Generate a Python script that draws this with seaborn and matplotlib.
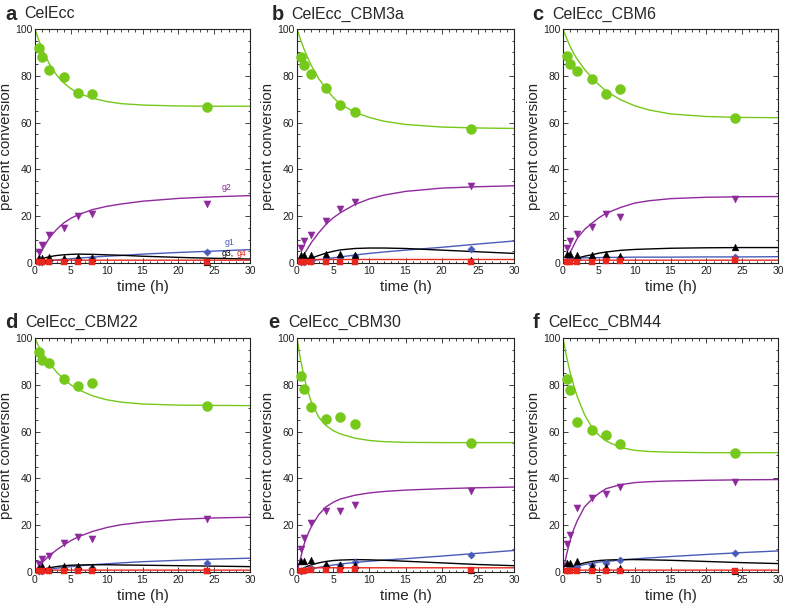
import numpy as np
import pandas as pd
import matplotlib
matplotlib.use("Agg")
import matplotlib.pyplot as plt
from matplotlib.ticker import MultipleLocator
import seaborn as sns

# ---------------- data ----------------
panel_letters = ["a", "b", "c", "d", "e", "f"]
panel_names = ["CelEcc", "CelEcc_CBM3a", "CelEcc_CBM6",
               "CelEcc_CBM22", "CelEcc_CBM30", "CelEcc_CBM44"]

t_obs = [0.5, 1, 2, 4, 6, 8, 24]
t_fit = [0, 0.5, 1, 1.5, 2, 3, 4, 5, 6, 8, 10, 12, 15, 20, 25, 30]

# observed points (one list per panel a..f)
green_obs = [
    [92.0, 87.9, 82.4, 79.5, 72.5, 72.4, 66.7],
    [87.9, 84.6, 80.8, 74.7, 67.6, 64.4, 57.2],
    [88.3, 85.0, 81.9, 78.7, 72.3, 74.2, 62.1],
    [94.0, 90.7, 89.5, 82.5, 79.3, 80.9, 71.1],
    [83.9, 78.3, 70.5, 65.5, 66.1, 63.2, 55.3],
    [82.6, 77.6, 64.1, 60.5, 58.7, 54.8, 51.0],
]
g2_obs = [
    [4.5, 7.8, 12.0, 14.8, 20.1, 20.9, 25.3],
    [6.4, 9.2, 12.1, 17.8, 23.2, 26.0, 32.7],
    [6.6, 9.5, 12.6, 15.4, 20.8, 19.5, 27.4],
    [3.5, 5.5, 7.0, 12.3, 15.0, 14.0, 22.5],
    [10.0, 14.7, 20.9, 25.9, 25.9, 28.6, 34.6],
    [11.8, 16.0, 27.4, 31.8, 33.2, 36.3, 38.3],
]
g3_obs = [
    [2.0, 2.0, 2.6, 2.3, 2.4, 2.0, 0.5],
    [3.3, 3.3, 3.6, 3.8, 3.8, 3.3, 1.1],
    [3.8, 3.8, 3.5, 3.5, 4.0, 3.2, 6.9],
    [1.5, 2.5, 1.5, 2.5, 2.5, 2.0, 1.0],
    [4.5, 4.5, 5.0, 3.6, 3.0, 3.1, 1.0],
    [4.0, 4.0, 4.5, 2.5, 2.3, 1.5, 0.5],
]
g1_obs = [
    [0.3, 0.5, 0.8, 1.2, 1.8, 2.3, 4.8],
    [0.4, 0.6, 0.9, 1.5, 2.4, 2.8, 6.1],
    [1.0, 1.5, 1.8, 2.0, 2.2, 2.2, 2.6],
    [0.4, 0.6, 0.9, 1.3, 1.6, 1.8, 4.0],
    [0.5, 0.9, 1.5, 2.4, 3.0, 4.2, 7.3],
    [0.8, 1.3, 2.2, 3.0, 4.0, 5.0, 8.2],
]
g4_obs = [
    [0.3, 0.3, 0.4, 0.4, 0.5, 0.5, 0.4],
    [0.3, 0.3, 0.4, 0.5, 0.5, 0.5, 0.5],
    [0.4, 0.4, 0.5, 0.6, 0.7, 0.7, 1.2],
    [0.3, 0.3, 0.3, 0.4, 0.4, 0.4, 0.4],
    [0.4, 0.5, 0.7, 0.9, 1.0, 1.1, 0.8],
    [0.3, 0.3, 0.4, 0.4, 0.5, 0.5, 0.5],
]

# fitted curves read at t_fit
green_fit = [
    [100, 95.4, 91.4, 88.2, 85.1, 80.4, 77.0, 74.5, 72.6, 70.5, 69.0, 68.1, 67.5, 67.1, 67.0, 67.0],
    [100, 95.3, 91.2, 87.6, 84.3, 78.8, 74.5, 70.8, 67.8, 64.4, 62.2, 60.6, 59.2, 58.1, 57.7, 57.5],
    [100, 96.0, 92.5, 89.5, 87.0, 82.8, 79.3, 76.2, 73.5, 69.8, 67.2, 65.4, 63.7, 62.6, 62.2, 62.1],
    [100, 96.5, 93.7, 91.3, 89.2, 85.5, 82.5, 80.0, 78.0, 75.3, 73.6, 72.6, 71.8, 71.3, 71.2, 71.1],
    [100, 90.5, 83.0, 77.2, 72.5, 66.2, 62.6, 60.4, 59.0, 57.2, 56.2, 55.7, 55.4, 55.3, 55.3, 55.3],
    [100, 92.0, 85.2, 79.6, 74.8, 67.3, 62.0, 58.5, 56.0, 53.2, 52.0, 51.5, 51.2, 51.0, 51.0, 51.0],
]
g2_fit = [
    [0, 2.5, 5.5, 8.2, 10.7, 14.3, 17.1, 19.1, 20.6, 22.8, 24.2, 25.2, 26.4, 27.6, 28.3, 28.8],
    [0, 1.5, 3.8, 6.3, 8.8, 12.9, 16.5, 19.3, 21.5, 25.0, 27.4, 29.0, 30.6, 32.0, 32.6, 33.0],
    [0, 2.0, 4.5, 7.6, 10.6, 14.3, 16.9, 19.3, 21.2, 23.7, 25.6, 26.6, 27.5, 28.1, 28.3, 28.4],
    [0, 2.5, 4.0, 5.5, 7.0, 9.4, 11.5, 13.4, 15.0, 17.3, 19.0, 20.2, 21.3, 22.5, 23.1, 23.4],
    [0, 6.0, 12.1, 16.2, 19.5, 24.5, 27.8, 29.8, 31.2, 32.8, 33.8, 34.4, 35.0, 35.6, 36.0, 36.3],
    [0, 7.5, 13.5, 18.3, 22.0, 27.8, 31.0, 33.6, 35.6, 37.3, 38.2, 38.6, 38.9, 39.2, 39.4, 39.5],
]
g3_fit = [
    [0, 1.0, 1.8, 2.3, 2.7, 3.2, 3.5, 3.7, 3.8, 3.7, 3.5, 3.3, 2.9, 2.4, 2.0, 1.7],
    [0, 0.6, 1.1, 1.6, 2.1, 3.2, 4.2, 5.0, 5.6, 6.2, 6.4, 6.4, 6.2, 5.5, 4.8, 4.1],
    [0, 0.6, 1.1, 1.6, 2.1, 2.9, 3.5, 4.2, 4.7, 5.4, 5.8, 6.0, 6.3, 6.5, 6.6, 6.6],
    [0, 0.5, 1.0, 1.4, 1.8, 2.3, 2.7, 2.9, 3.0, 3.1, 3.1, 3.0, 2.9, 2.7, 2.5, 2.3],
    [0, 1.0, 1.8, 2.5, 3.1, 3.9, 4.5, 4.9, 5.1, 5.3, 5.2, 5.0, 4.6, 3.9, 3.2, 2.7],
    [0, 1.0, 1.8, 2.5, 3.1, 3.9, 4.5, 4.9, 5.1, 5.3, 5.3, 5.2, 5.0, 4.5, 4.0, 3.6],
]
g1_fit = [
    [0, 0.4, 0.7, 0.9, 1.0, 1.3, 1.6, 1.8, 2.1, 2.5, 2.9, 3.2, 3.8, 4.5, 5.1, 5.7],
    [0, 0.3, 0.6, 0.8, 1.0, 1.4, 1.8, 2.2, 2.6, 3.4, 4.1, 4.7, 5.5, 6.7, 8.1, 9.4],
    [0, 0.8, 1.4, 1.8, 2.0, 2.2, 2.3, 2.3, 2.4, 2.4, 2.5, 2.5, 2.5, 2.6, 2.6, 2.7],
    [0, 0.4, 0.7, 1.0, 1.2, 1.6, 2.0, 2.3, 2.6, 3.1, 3.5, 3.9, 4.4, 5.0, 5.5, 5.9],
    [0, 0.4, 0.8, 1.1, 1.4, 2.0, 2.5, 3.0, 3.4, 4.1, 4.6, 5.1, 5.7, 6.8, 8.0, 9.2],
    [0, 0.8, 1.5, 2.0, 2.5, 3.2, 3.7, 4.2, 4.5, 5.1, 5.6, 6.0, 6.6, 7.5, 8.3, 9.0],
]
g4_fit = [
    [0, 0.5, 0.8, 1.0, 1.1, 1.2, 1.2, 1.2, 1.2, 1.2, 1.2, 1.2, 1.2, 1.2, 1.2, 1.2],
    [0, 0.7, 1.1, 1.3, 1.4, 1.5, 1.5, 1.5, 1.5, 1.5, 1.5, 1.5, 1.5, 1.5, 1.5, 1.5],
    [0, 0.5, 0.8, 1.0, 1.1, 1.2, 1.2, 1.2, 1.2, 1.2, 1.2, 1.2, 1.2, 1.2, 1.2, 1.2],
    [0, 0.4, 0.6, 0.7, 0.8, 0.8, 0.8, 0.8, 0.8, 0.8, 0.8, 0.8, 0.8, 0.8, 0.8, 0.8],
    [0, 0.8, 1.3, 1.6, 1.7, 1.8, 1.8, 1.8, 1.8, 1.8, 1.8, 1.8, 1.8, 1.8, 1.8, 1.8],
    [0, 0.4, 0.6, 0.7, 0.8, 0.8, 0.8, 0.8, 0.8, 0.8, 0.8, 0.8, 0.8, 0.8, 0.8, 0.8],
]

# ---------------- style ----------------
sns.set_style("ticks")
plt.rcParams["font.family"] = ["Liberation Sans", "DejaVu Sans"]

C_GREEN = "#76c81a"
C_PURPLE = "#8e2a9c"
C_BLUE = "#4a5cb8"
C_BLACK = "#000000"
C_RED = "#e8281e"

series = [
    # name, obs, fit, color, marker, size
    ("green", green_obs, green_fit, C_GREEN, "o", 52),
    ("g2", g2_obs, g2_fit, C_PURPLE, "v", 26),
    ("g1", g1_obs, g1_fit, C_BLUE, "D", 14),
    ("g3", g3_obs, g3_fit, C_BLACK, "^", 24),
    ("g4", g4_obs, g4_fit, C_RED, "s", 18),
]

fig = plt.figure(figsize=(7.85, 6.08), dpi=100)
W, H = 785.0, 608.0
lefts = [35, 297, 563]
widths = [215, 217, 215]
tops = [29, 338]
ax_h = 234
letter_x = [5, 272, 532, 5, 268, 533]
name_x = [24, 291, 552, 25, 288, 548]

for i in range(6):
    r, c = divmod(i, 3)
    l = lefts[c]
    top = tops[r]
    ax = fig.add_axes([l / W, 1 - (top + ax_h) / H, widths[c] / W, ax_h / H])

    for name, obs, fit, col, mk, sz in series:
        df_fit = pd.DataFrame({"t": t_fit, "y": fit[i]})
        sns.lineplot(data=df_fit, x="t", y="y", ax=ax, color=col, lw=1.0,
                     estimator=None, sort=False, zorder=2)
        df_obs = pd.DataFrame({"t": t_obs, "y": obs[i]})
        sns.scatterplot(data=df_obs, x="t", y="y", ax=ax, color=col, marker=mk,
                        s=sz, edgecolor=col, linewidth=0.3, zorder=3, clip_on=False)

    ax.set_xlim(0, 30)
    ax.set_ylim(0, 100)
    ax.xaxis.set_major_locator(MultipleLocator(5))
    ax.xaxis.set_minor_locator(MultipleLocator(1))
    ax.yaxis.set_major_locator(MultipleLocator(20))
    ax.yaxis.set_minor_locator(MultipleLocator(5))
    ax.tick_params(which="both", direction="in", top=True, right=True,
                   width=0.6, colors="#222222", labelsize=7.5, pad=2)
    ax.tick_params(which="major", length=3.5)
    ax.tick_params(which="minor", length=1.8)
    for sp in ax.spines.values():
        sp.set_linewidth(0.8)
        sp.set_color("#222222")
    ax.set_xlabel("time (h)", fontsize=11, labelpad=3)
    ax.set_ylabel("percent conversion", fontsize=10.8, labelpad=1)

    # panel title
    ty = 1 - (14 if r == 0 else 322) / H
    fig.text(letter_x[i] / W, ty, panel_letters[i], fontsize=14.5, fontweight="bold",
             va="center", ha="left")
    fig.text(name_x[i] / W, ty, panel_names[i], fontsize=11.5,
             va="center", ha="left")

    if i == 0:
        ax.text(26.0, 30.5, "g2", color=C_PURPLE, fontsize=6.3, ha="left", va="bottom")
        ax.text(26.4, 7.0, "g1", color=C_BLUE, fontsize=6.3, ha="left", va="bottom")
        ax.text(26.0, 2.0, "g3,", color=C_BLACK, fontsize=6.3, ha="left", va="bottom")
        ax.text(28.2, 2.0, "g4", color=C_RED, fontsize=6.3, ha="left", va="bottom")

fig.savefig("out.png", dpi=100)
